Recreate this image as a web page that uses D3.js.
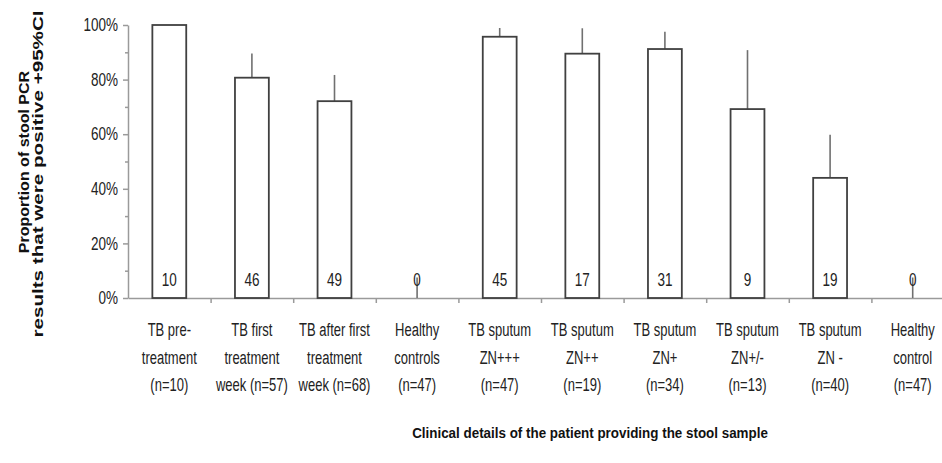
<!DOCTYPE html>
<html>
<head>
<meta charset="utf-8">
<script src="https://cdn.jsdelivr.net/npm/d3@7"></script>
<style>
  html, body { margin: 0; padding: 0; background: #fff; }
  svg { display: block; font-family: "Liberation Sans", Arial, sans-serif; }
</style>
</head>
<body>
<svg id="chart" width="942" height="463"></svg>
<script>
// Category labels, one entry per line of the wrapped label
const categoryLines = [
  ["TB pre-", "treatment", "(n=10)"],
  ["TB first", "treatment", "week (n=57)"],
  ["TB after first", "treatment", "week (n=68)"],
  ["Healthy", "controls", "(n=47)"],
  ["TB sputum", "ZN+++", "(n=47)"],
  ["TB sputum", "ZN++", "(n=19)"],
  ["TB sputum", "ZN+", "(n=34)"],
  ["TB sputum", "ZN+/-", "(n=13)"],
  ["TB sputum", "ZN -", "(n=40)"],
  ["Healthy", "control", "(n=47)"]
];
// Percentage of stool PCR results that were positive
const positivePct = [100, 80.7, 72.1, 0, 95.7, 89.5, 91.2, 69.2, 44, 0];
// Upper limit of the 95% confidence interval (%)
const upperCI = [100, 89.6, 81.7, 7.5, 98.9, 98.8, 97.5, 90.8, 59.8, 7.5];
// Number of positive results printed inside each bar
const positiveCount = [10, 46, 49, 0, 45, 17, 31, 9, 19, 0];
const yTickValues = [0, 20, 40, 60, 80, 100];
const yMinorTickValues = [10, 30, 50, 70, 90];
const yTitleLines = ["Proportion of stool PCR", "results that were positive +95%CI"];
const xTitle = "Clinical details of the patient providing the stool sample";

const svg = d3.select("#chart");
const plot = { left: 128, right: 954, top: 25, bottom: 298 };
const axisColor = "#9a9a9a";
const textColor = "#222";

const y = d3.scaleLinear().domain([0, 100]).range([plot.bottom, plot.top]);
const x = d3.scaleBand()
  .domain(d3.range(categoryLines.length))
  .range([plot.left, plot.right])
  .paddingInner(0.59)
  .paddingOuter(0.295);
const xEdge = d3.scaleLinear().domain([0, categoryLines.length]).range([plot.left, plot.right]);
const cx = i => x(i) + x.bandwidth() / 2;

// text drawn with a vertical stretch
function stretchedText(g, tx, ty, str, size, k, opts = {}) {
  return g.append("text")
    .attr("transform", `translate(${tx},${ty}) scale(1,${k})`)
    .attr("text-anchor", opts.anchor || "middle")
    .attr("font-size", size)
    .attr("font-weight", opts.weight || "normal")
    .attr("fill", textColor)
    .text(str);
}

// Y axis (major ticks with labels, minor ticks without)
const yAxis = svg.append("g")
  .attr("transform", `translate(${plot.left},0)`)
  .call(d3.axisLeft(y).tickValues(yTickValues).tickSize(5).tickSizeOuter(0).tickPadding(5)
    .tickFormat(d => d + "%"));
yAxis.selectAll("path, line").attr("stroke", axisColor).attr("stroke-width", 1.5);
yAxis.selectAll("text")
  .attr("font-size", 13.5)
  .attr("font-family", "Liberation Sans, Arial, sans-serif")
  .attr("fill", textColor)
  .attr("transform", "scale(1,1.3)");

const yMinor = svg.append("g")
  .attr("transform", `translate(${plot.left},0)`)
  .call(d3.axisLeft(y).tickValues(yMinorTickValues).tickSize(3).tickFormat(""));
yMinor.select(".domain").remove();
yMinor.selectAll("line").attr("stroke", axisColor).attr("stroke-width", 1.5);

// X axis with category boundary ticks
const xAxis = svg.append("g")
  .attr("transform", `translate(0,${plot.bottom})`)
  .call(d3.axisBottom(xEdge).tickValues(d3.range(1, categoryLines.length))
    .tickSize(5).tickSizeOuter(0).tickFormat(""));
xAxis.selectAll("path, line").attr("stroke", axisColor).attr("stroke-width", 1.5);

// Error bars: upper half of the 95% CI
svg.append("g").selectAll("line")
  .data(d3.range(categoryLines.length).filter(i => upperCI[i] > positivePct[i]))
  .join("line")
  .attr("x1", cx).attr("x2", cx)
  .attr("y1", i => y(positivePct[i]))
  .attr("y2", i => y(upperCI[i]))
  .attr("stroke", "#707070")
  .attr("stroke-width", 1.6);

// Bars
svg.append("g").selectAll("rect")
  .data(d3.range(categoryLines.length).filter(i => positivePct[i] > 0))
  .join("rect")
  .attr("x", i => x(i))
  .attr("y", i => y(positivePct[i]))
  .attr("width", x.bandwidth())
  .attr("height", i => y(0) - y(positivePct[i]))
  .attr("fill", "#fff")
  .attr("stroke", "#404040")
  .attr("stroke-width", 1.8);

// Counts inside the bars
const countG = svg.append("g");
positiveCount.forEach((c, i) => stretchedText(countG, cx(i), 286, String(c), 13.5, 1.35));

// Category labels
const catG = svg.append("g");
const lineBaselines = [336, 363.5, 391];
categoryLines.forEach((lines, i) => {
  lines.forEach((s, j) => stretchedText(catG, cx(i), lineBaselines[j], s, 13, 1.45));
});

// Y axis title (two rotated lines)
const yTitleG = svg.append("g");
[{ bx: 29, cy: 162, k: 1.04 }, { bx: 43, cy: 174, k: 1.34 }].forEach((p, j) => {
  yTitleG.append("text")
    .attr("transform", `translate(${p.bx},${p.cy}) scale(1,${p.k}) rotate(-90)`)
    .attr("text-anchor", "middle")
    .attr("font-size", 15.4)
    .attr("font-weight", "bold")
    .attr("fill", "#111")
    .text(yTitleLines[j]);
});

// X axis title
stretchedText(svg.append("g"), 590, 438, xTitle, 13.4, 1.1, { weight: "bold" }).attr("fill", "#111");
</script>
</body>
</html>
